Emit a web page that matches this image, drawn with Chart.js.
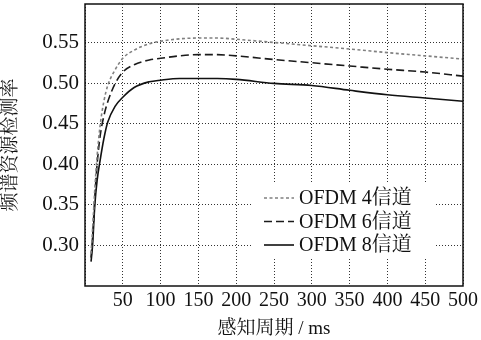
<!DOCTYPE html>
<html>
<head>
<meta charset="utf-8">
<script src="https://cdn.jsdelivr.net/npm/chart.js@4/dist/chart.umd.min.js"></script>
<style>
  html, body { margin: 0; padding: 0; background: #fff; }
  #wrap { width: 481px; height: 340px; }
</style>
</head>
<body>
<div id="wrap"><canvas id="c" width="481" height="340"></canvas></div>
<script>
// sensing period (ms)
const periods = [8, 10, 13, 16, 20, 25, 30, 40, 50, 65, 85, 100, 125, 150, 175, 200, 250, 300, 350, 400, 450, 500]
const ofdm4 = [0.29, 0.32, 0.37, 0.41, 0.448, 0.478, 0.497, 0.517, 0.531, 0.541, 0.549, 0.552, 0.555, 0.556, 0.556, 0.5545, 0.5505, 0.5465, 0.5425, 0.538, 0.534, 0.530]
const ofdm6 = [0.285, 0.31, 0.36, 0.40, 0.435, 0.46, 0.477, 0.500, 0.514, 0.523, 0.529, 0.531, 0.534, 0.5355, 0.5355, 0.534, 0.5295, 0.5255, 0.5215, 0.5175, 0.514, 0.509]
const ofdm8 = [0.28, 0.30, 0.35, 0.38, 0.405, 0.432, 0.452, 0.472, 0.483, 0.495, 0.502, 0.504, 0.506, 0.506, 0.506, 0.505, 0.500, 0.4975, 0.4915, 0.486, 0.482, 0.478]
const xTicks = [0, 50, 100, 150, 200, 250, 300, 350, 400, 450, 500]
const yTicks = [0.30, 0.35, 0.40, 0.45, 0.50, 0.55]
const seriesNames = ['OFDM 4信道', 'OFDM 6信道', 'OFDM 8信道']

const serif = '"Liberation Serif", "Times New Roman", serif'
const cjkSerif = '"Liberation Serif", "Noto Serif CJK SC", "Noto Sans CJK SC", serif'

const pts = arr => periods.map((p, i) => ({ x: p, y: arr[i] }))

// legend box drawn inside the plot, plus a frame around the plot
const framePlugin = {
    id: 'frame',
    afterDatasetsDraw(chart) {
        const ctx = chart.ctx
        const a = chart.chartArea
        // legend
        const bx = a.left + 166, by = a.top + 179, bw = 183, bh = 76
        ctx.save()
        ctx.fillStyle = '#fff'
        ctx.fillRect(bx, by, bw, bh)
        ctx.font = '20px ' + cjkSerif
        ctx.textBaseline = 'middle'
        chart.data.datasets.forEach((ds, i) => {
            const y = by + 15 + i * 23.5
            ctx.beginPath()
            ctx.strokeStyle = ds.borderColor
            ctx.lineWidth = ds.borderWidth
            ctx.setLineDash(ds.borderDash || [])
            ctx.moveTo(bx + 13, y)
            ctx.lineTo(bx + 43, y)
            ctx.stroke()
            ctx.setLineDash([])
            ctx.fillStyle = '#111'
            ctx.fillText(ds.label, bx + 48, y + 1)
        })
        // frame
        ctx.strokeStyle = '#111'
        ctx.lineWidth = 1.5
        ctx.setLineDash([])
        ctx.strokeRect(a.left, a.top, a.right - a.left, a.bottom - a.top)
        ctx.restore()
    }
}

new Chart(document.getElementById('c'), {
    type: 'line',
    data: {
        datasets: [{
            label: seriesNames[0],
            data: pts(ofdm4),
            borderColor: '#808080',
            borderWidth: 1.6,
            borderDash: [3, 2.5],
            pointRadius: 0,
            cubicInterpolationMode: 'monotone',
            fill: false
        }, {
            label: seriesNames[1],
            data: pts(ofdm6),
            borderColor: '#1a1a1a',
            borderWidth: 1.6,
            borderDash: [8, 4],
            pointRadius: 0,
            cubicInterpolationMode: 'monotone',
            fill: false
        }, {
            label: seriesNames[2],
            data: pts(ofdm8),
            borderColor: '#111',
            borderWidth: 1.6,
            pointRadius: 0,
            cubicInterpolationMode: 'monotone',
            fill: false
        }]
    },
    options: {
        responsive: false,
        animation: false,
        layout: { padding: { top: 4, right: 18, left: 0, bottom: 0 } },
        plugins: {
            legend: { display: false },
            tooltip: { enabled: false }
        },
        scales: {
            x: {
                type: 'linear',
                min: 0,
                max: 500,
                afterBuildTicks: s => { s.ticks = xTicks.map(v => ({ value: v })) },
                afterFit: s => { s.height = 54; s.paddingLeft = 0; s.paddingRight = 0 },
                ticks: {
                    color: '#111',
                    font: { family: serif, size: 20 },
                    padding: 3,
                    maxRotation: 0,
                    callback: v => v === 0 ? '' : v
                },
                grid: { color: '#333', lineWidth: 1, drawTicks: false },
                border: { display: false, dash: [1, 2] },
                title: {
                    display: true,
                    text: '感知周期 / ms',
                    color: '#111',
                    font: { family: cjkSerif, size: 19 },
                    padding: { top: 1, bottom: 0 }
                }
            },
            y: {
                min: 0.25,
                max: 0.598,
                afterBuildTicks: s => { s.ticks = yTicks.map(v => ({ value: v })) },
                afterFit: s => { s.width = 85; s.paddingTop = 0; s.paddingBottom = 0 },
                ticks: {
                    color: '#111',
                    font: { family: serif, size: 21 },
                    padding: 6,
                    callback: v => v.toFixed(2)
                },
                grid: { color: '#333', lineWidth: 1, drawTicks: false },
                border: { display: false, dash: [1, 2] },
                title: {
                    display: true,
                    text: '频谱资源检测率',
                    color: '#111',
                    font: { family: cjkSerif, size: 19 },
                    padding: { top: 0, bottom: 2 }
                }
            }
        }
    },
    plugins: [framePlugin]
})
</script>
</body>
</html>
